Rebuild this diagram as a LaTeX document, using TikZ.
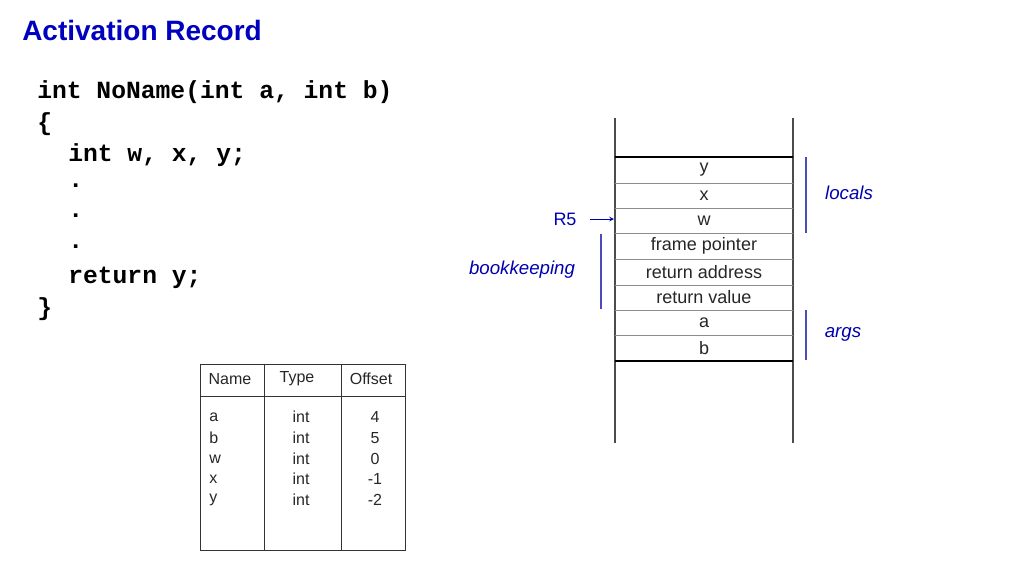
\documentclass[tikz,border=0pt]{standalone}
\usepackage{fontspec}
\setmainfont{Liberation Sans}
\newfontfamily\codefont{Liberation Mono}
\begin{document}
\begin{tikzpicture}[x=0.75pt,y=-0.75pt,
  code/.style={anchor=west,font=\codefont\bfseries\fontsize{18.5}{20}\selectfont,inner sep=0},
  cell/.style={font=\fontsize{13.5}{15}\selectfont,text=black!85,inner sep=0},
  lab/.style={font=\itshape\fontsize{14}{16}\selectfont,text=blue!70!black,inner sep=0},
  tab/.style={font=\fontsize{12}{14}\selectfont,text=black!85,inner sep=0},
  bl/.style={draw=blue!60!black!70,line width=0.8pt}]
\useasboundingbox (0,0) rectangle (1024,576);
\node[anchor=west,inner sep=0,font=\bfseries\fontsize{21}{24}\selectfont,text=blue!75!black] (title) at (22,30) {Activation Record};
\foreach \t/\xx/\yy [count=\i] in {{int NoName(int a, int b)}/37/92, {\{}/37/124, {int w, x, y;}/68/155, {.}/68/186, {.}/68/216, {.}/68/247, {return y;}/68/278, {\}}/37/309}
  \node[code] (c\i) at (\xx,\yy) {\t};
% stack
\draw[black!70,line width=0.8pt] (615,118) -- (615,443) (793,118) -- (793,443);
\foreach \y in {183,208,233,259,285,310,335} \draw[black!45,line width=0.7pt] (615,\y) -- (793,\y);
\draw[line width=2.2pt] (615,157) -- (793,157) (615,361) -- (793,361);
\foreach \t/\y [count=\i] in {y/170,x/195.5,w/220.5,frame pointer/246,return address/272,return value/297.5,a/322.5,b/348}
  \node[cell] (s\i) at (704,\y) {\t};
\draw[bl] (806,157) -- (806,233) (806,310) -- (806,360) (601,234) -- (601,309);
\node[lab] (locals) at (849,193) {locals};
\node[lab] (args) at (843,334) {args};
\node[lab] (book) at (522,270) {bookkeeping};
\node[inner sep=0,font=\fontsize{13.5}{15}\selectfont,text=blue!70!black] (r5) at (565,219) {R5};
\coordinate (p) at (614,219);
\draw[->,>=stealth,blue!70!black,line width=0.6pt] (590,219) -- (p);
% table
\draw[black!80,line width=0.7pt] (200,364) rectangle (405,550);
\draw[black!80,line width=0.7pt] (200,396) -- (405,396) (264,364) -- (264,550) (341,364) -- (341,550);
\node[tab] (hn) at (230,379) {Name};
\node[tab] (ht) at (297,379) {Type};
\node[tab] (ho) at (371,379) {Offset};
\foreach \n/\o/\y [count=\i] in {a/4/417,b/5/438,w/0/459,x/-1/479,y/-2/500}{
  \node[tab,anchor=west] (n\i) at (209,\y) {\n};
  \node[tab] (t\i) at (301,\y) {int};
  \node[tab] (o\i) at (375,\y) {\o};
}
\end{tikzpicture}
\end{document}
